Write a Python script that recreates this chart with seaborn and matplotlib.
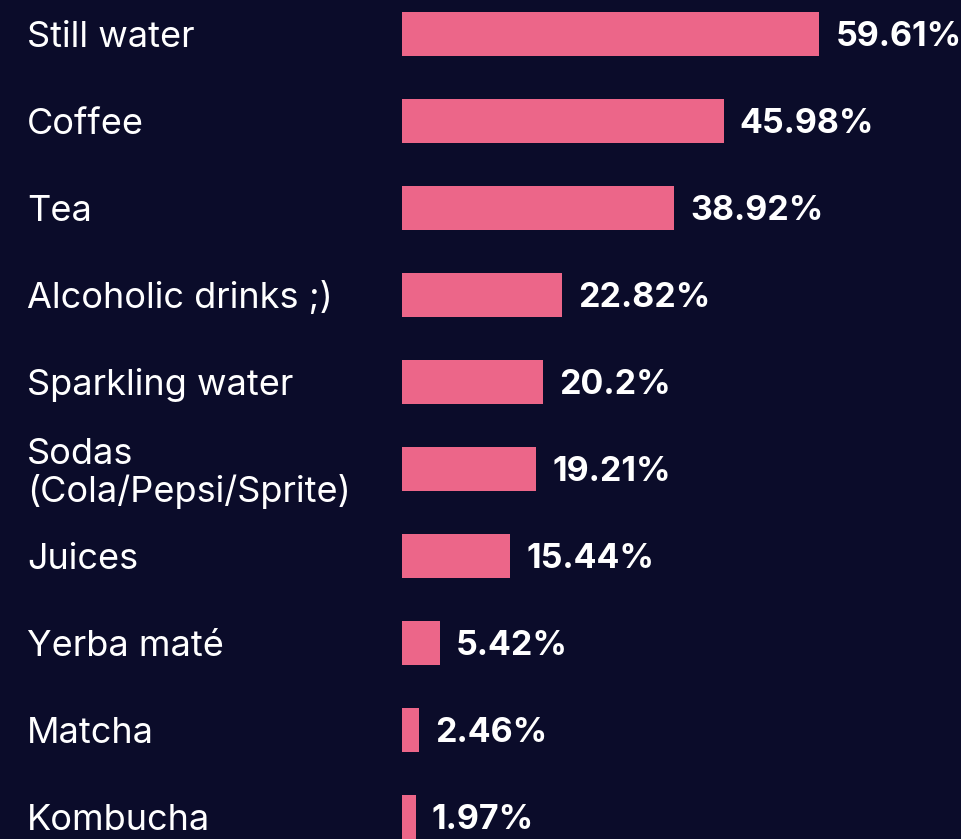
import matplotlib
matplotlib.use("Agg")
import matplotlib.pyplot as plt
import matplotlib.transforms as mtransforms
from matplotlib.font_manager import FontProperties
import seaborn as sns
import pandas as pd

drinks = [
    "Still water",
    "Coffee",
    "Tea",
    "Alcoholic drinks ;)",
    "Sparkling water",
    "Sodas\n(Cola/Pepsi/Sprite)",
    "Juices",
    "Yerba maté",
    "Matcha",
    "Kombucha",
]
shares = [59.61, 45.98, 38.92, 22.82, 20.2, 19.21, 15.44, 5.42, 2.46, 1.97]
share_labels = ["59.61%", "45.98%", "38.92%", "22.82%", "20.2%",
                "19.21%", "15.44%", "5.42%", "2.46%", "1.97%"]

BG = "#0b0c2a"
BAR = "#ec6689"

sns.set_theme(style="white")
plt.rcParams["font.family"] = ["Inter", "DejaVu Sans"]

value_font = FontProperties(family=["Inter", "DejaVu Sans"], weight="bold", size=24.5)
name_font = FontProperties(family=["Inter", "DejaVu Sans"], weight="normal", size=26)

df = pd.DataFrame({"drink": drinks, "share": shares})

W, H, DPI = 962, 839, 100
fig = plt.figure(figsize=(W / DPI, H / DPI), dpi=DPI, facecolor=BG)
ax = fig.add_axes([402 / W, 0, (W - 402) / W, 1])
ax.set_facecolor(BG)

sns.barplot(data=df, x="share", y="drink", orient="h", color=BAR,
            saturation=1, width=0.5, linewidth=0, edgecolor=BAR, ax=ax)

ax.set_xlim(0, (W - 402) / 7.0)
ax.set_ylim(len(drinks) - 1 + 0.253, -0.39)

# value labels, 16 px to the right of each bar end
value_offset = mtransforms.ScaledTranslation(16 / DPI, 0, fig.dpi_scale_trans)
for i, (v, lab) in enumerate(zip(shares, share_labels)):
    ax.text(v, i, lab, ha="left", va="center_baseline", color="white",
            fontproperties=value_font, transform=ax.transData + value_offset)

# category names at the left edge of the figure
name_trans = mtransforms.blended_transform_factory(fig.transFigure, ax.transData)
for i, name in enumerate(drinks):
    ax.text(27 / W, i, name, ha="left", va="center_baseline", color="white",
            fontproperties=name_font, linespacing=1.1, transform=name_trans)

ax.set_xlabel("")
ax.set_ylabel("")
ax.set_xticks([])
ax.set_yticks([])
for s in ax.spines.values():
    s.set_visible(False)

fig.savefig("out.png", dpi=DPI, facecolor=BG)
